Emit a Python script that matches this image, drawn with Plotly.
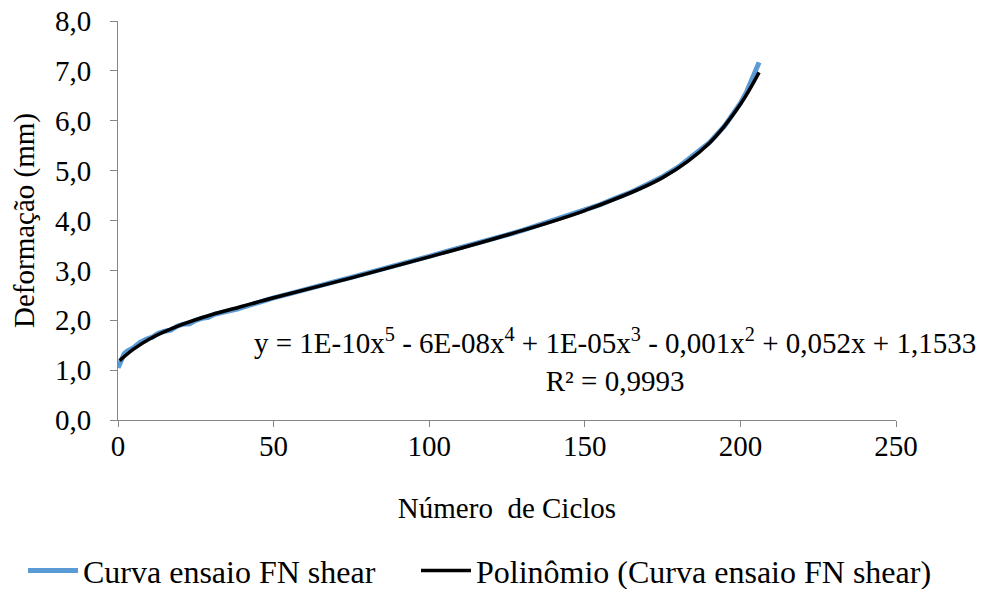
import plotly.graph_objects as go

# curva ensaio FN shear
ciclos = [0, 1, 2, 3, 5, 7, 9, 11, 13, 15, 17, 19, 21, 23, 25, 27, 29, 31, 33, 35,
          38, 42, 46, 50, 55, 60, 65, 70, 75, 80, 85, 90, 95, 100, 105, 110, 115,
          120, 125, 130, 135, 140, 145, 150, 155, 160, 165, 170, 175, 180, 185,
          190, 195, 198, 200, 202, 204, 206]
deformacao = [1.05, 1.20, 1.33, 1.38, 1.45, 1.55, 1.62, 1.66, 1.74, 1.78, 1.80, 1.88,
              1.92, 1.93, 2.00, 2.04, 2.06, 2.12, 2.14, 2.18, 2.22, 2.30, 2.37, 2.45,
              2.53, 2.62, 2.70, 2.78, 2.86, 2.94, 3.03, 3.12, 3.20, 3.28, 3.37, 3.45,
              3.53, 3.62, 3.71, 3.80, 3.90, 4.00, 4.10, 4.21, 4.32, 4.45, 4.57, 4.72,
              4.88, 5.07, 5.30, 5.56, 5.90, 6.15, 6.35, 6.58, 6.85, 7.17]

# linha de tendencia polinomial
ciclos_pol = [0.5, 5, 10, 20, 30, 40, 50, 75, 100, 125, 150, 175, 190, 200, 206]
deform_pol = [1.19, 1.42, 1.62, 1.90, 2.11, 2.28, 2.45, 2.85, 3.27, 3.71, 4.20,
              4.86, 5.55, 6.33, 6.97]

x_ticks = [0, 50, 100, 150, 200, 250]
y_ticks = [0, 1, 2, 3, 4, 5, 6, 7, 8]

FONT = "Liberation Serif"
AXIS_COLOR = "#868686"
fnt = dict(family=FONT, size=29, color="black")

fig = go.Figure()
fig.add_trace(go.Scatter(x=ciclos, y=deformacao, mode="lines",
                         name="Curva ensaio FN shear", legend="legend",
                         line=dict(color="#5B9BD5", width=5)))
fig.add_trace(go.Scatter(x=ciclos_pol, y=deform_pol, mode="lines",
                         name="Polinômio (Curva ensaio FN shear)", legend="legend2",
                         line_shape="spline",
                         line=dict(color="black", width=3.5)))

# equacao da tendencia
fig.add_annotation(x=0.639, y=0.15, xref="paper", yref="paper", showarrow=False,
                   xanchor="center", yanchor="middle", align="center",
                   text="y = 1E-10x<sup>5</sup> - 6E-08x<sup>4</sup> + 1E-05x<sup>3</sup> - 0,001x<sup>2</sup> + 0,052x + 1,1533<br>R² = 0,9993",
                   font=fnt)

leg = dict(orientation="h", xref="container", yref="container", y=0.031,
           xanchor="left", yanchor="middle", font=dict(fnt, size=32), itemwidth=50)

fig.update_layout(
    width=983, height=589,
    margin=dict(l=118, r=87, t=21, b=169),
    paper_bgcolor="white", plot_bgcolor="white",
    font=fnt,
    showlegend=True,
    legend=dict(leg, x=23 / 983),
    legend2=dict(leg, x=416 / 983),
)

fig.update_xaxes(range=[0, 250], tickvals=x_ticks, ticks="outside", ticklen=6,
                 tickcolor=AXIS_COLOR, showline=True, linecolor=AXIS_COLOR,
                 linewidth=1, showgrid=False, zeroline=False, tickfont=fnt,
                 ticklabelstandoff=-6, automargin=False,
                 title=dict(text="Número  de Ciclos", standoff=36, font=fnt))
fig.update_yaxes(range=[0, 8], tickvals=y_ticks,
                 ticktext=[f"{v},0" for v in y_ticks],
                 ticks="outside", ticklen=7, tickcolor=AXIS_COLOR, showline=True,
                 linecolor=AXIS_COLOR, linewidth=1, showgrid=False, zeroline=False,
                 tickfont=fnt, ticklabelstandoff=13, automargin=False,
                 title=dict(text="Deformação (mm)", standoff=11, font=fnt))

# remove the default 8px body margin so the figure sits at the window corner
fig.write_html("out.html", config={"displayModeBar": False},
               post_script="document.body.style.margin = '0';")
